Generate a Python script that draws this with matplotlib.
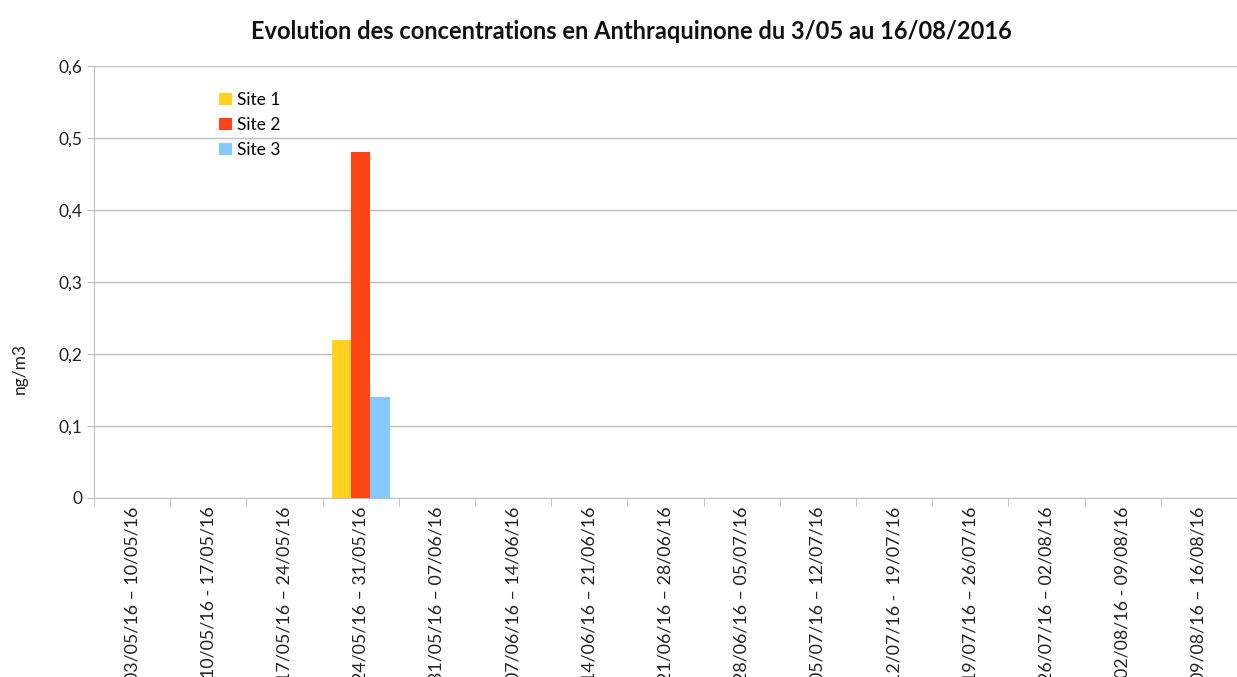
import numpy as np
import matplotlib
matplotlib.use('Agg')
import matplotlib.pyplot as plt
from matplotlib.ticker import FuncFormatter, FixedLocator

periods = [
    '03/05/16 – 10/05/16', '10/05/16 - 17/05/16', '17/05/16 – 24/05/16',
    '24/05/16 – 31/05/16', '31/05/16 – 07/06/16', '07/06/16 – 14/06/16',
    '14/06/16 – 21/06/16', '21/06/16 – 28/06/16', '28/06/16 – 05/07/16',
    '05/07/16 – 12/07/16', '12/07/16 -  19/07/16', '19/07/16 – 26/07/16',
    '26/07/16 – 02/08/16', '02/08/16 - 09/08/16', '09/08/16 – 16/08/16',
]
site1 = [0, 0, 0, 0.22, 0, 0, 0, 0, 0, 0, 0, 0, 0, 0, 0]
site2 = [0, 0, 0, 0.48, 0, 0, 0, 0, 0, 0, 0, 0, 0, 0, 0]
site3 = [0, 0, 0, 0.14, 0, 0, 0, 0, 0, 0, 0, 0, 0, 0, 0]
series_names = ['Site 1', 'Site 2', 'Site 3']
colors = ['#FFD21F', '#FF4413', '#85C9FF']

plt.rcParams['font.family'] = ['Lato', 'DejaVu Sans']

fig = plt.figure(figsize=(12.37, 6.77), dpi=100)
ax = fig.add_axes([94 / 1237, 1 - 498 / 677, 1 - 94 / 1237, (498 - 66) / 677])

x = np.arange(len(periods))
w = 0.255
for i, (vals, name, c) in enumerate(zip([site1, site2, site3], series_names, colors)):
    ax.bar(x + (i - 1) * w, vals, width=w, color=c, label=name, zorder=3)

ax.set_xlim(-0.5, len(periods) - 0.5)
ax.set_ylim(0, 0.6)
ax.set_yticks(np.arange(0, 0.61, 0.1))
ax.yaxis.set_major_formatter(FuncFormatter(lambda v, p: '0' if v == 0 else f'{v:.1f}'.replace('.', ',')))
ax.yaxis.grid(True, color='#bfbfbf', linewidth=1, zorder=0)

ax.set_xticks(x)
ax.set_xticklabels(periods, rotation=90, fontsize=12.8, color='#222222')
ax.xaxis.set_minor_locator(FixedLocator(np.arange(-0.5, len(periods), 1)))
ax.tick_params(axis='x', which='major', length=0, pad=6)
ax.tick_params(axis='x', which='minor', length=6, color='#bfbfbf')
ax.tick_params(axis='y', length=5, color='#bfbfbf', labelsize=12.5, labelcolor='#222222')

for s in ['top', 'right']:
    ax.spines[s].set_visible(False)
for s in ['left', 'bottom']:
    ax.spines[s].set_color('#bfbfbf')

ax.set_ylabel('ng/m3', fontsize=12.5, color='#222222')
ax.yaxis.set_label_coords(-0.058, 0.3)

fig.text(631 / 1237, 0.97, 'Evolution des concentrations en Anthraquinone du 3/05 au 16/08/2016',
         ha='center', va='top', fontsize=17, fontweight='bold', color='#111111')

ax.legend(loc='upper left', bbox_to_anchor=(0.096, 0.975), frameon=False, fontsize=12.5,
          handlelength=0.7, handleheight=0.7, handletextpad=0.3, labelspacing=0.5)

fig.savefig('out.png', dpi=100)
